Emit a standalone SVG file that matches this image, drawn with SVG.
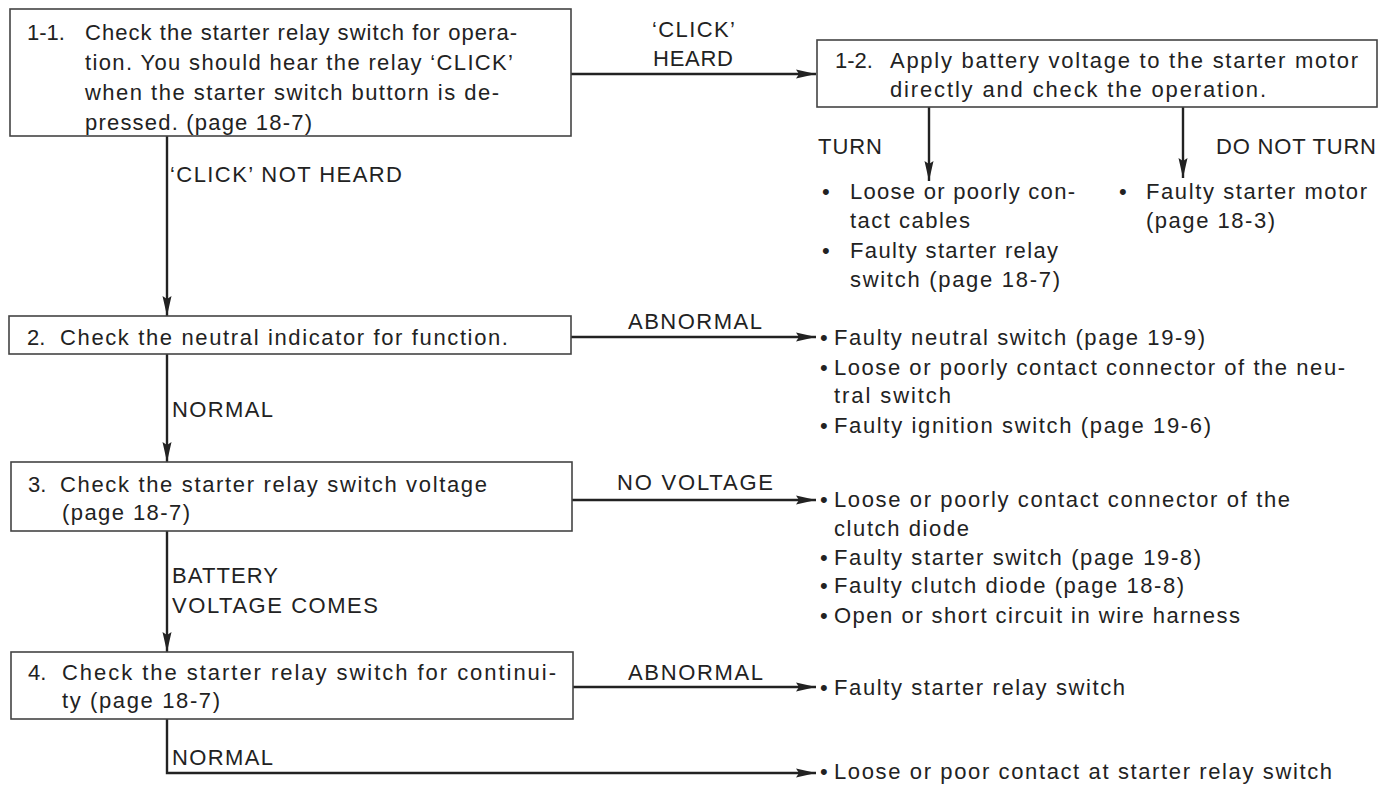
<svg xmlns="http://www.w3.org/2000/svg" width="1393" height="785" viewBox="0 0 1393 785">
<style>
text{font-family:"Liberation Sans",Arial,sans-serif;font-size:22px;fill:#222}
.box{fill:#fff;stroke:#444;stroke-width:1.6}
.ln{fill:none;stroke:#222;stroke-width:2.4}
</style>
<defs>
<marker id="ah" viewBox="0 0 20 10" refX="20" refY="5" markerWidth="20" markerHeight="10" markerUnits="userSpaceOnUse" orient="auto">
<path d="M0,0.5 L20,5 L0,9.5 L3,5 Z" fill="#222"/>
</marker>
</defs>
<rect width="1393" height="785" fill="#fff"/>
<g id="connectors">
<line class="ln" x1="571" y1="74" x2="816" y2="74" marker-end="url(#ah)"/>
<line class="ln" x1="929" y1="107" x2="929" y2="181" marker-end="url(#ah)"/>
<line class="ln" x1="1183" y1="107" x2="1183" y2="178" marker-end="url(#ah)"/>
<line class="ln" x1="167" y1="136" x2="167" y2="316" marker-end="url(#ah)"/>
<line class="ln" x1="571" y1="337" x2="816" y2="337" marker-end="url(#ah)"/>
<line class="ln" x1="167" y1="354" x2="167" y2="462" marker-end="url(#ah)"/>
<line class="ln" x1="572" y1="500" x2="816" y2="500" marker-end="url(#ah)"/>
<line class="ln" x1="167" y1="531" x2="167" y2="652" marker-end="url(#ah)"/>
<line class="ln" x1="573" y1="687" x2="816" y2="687" marker-end="url(#ah)"/>
<polyline class="ln" points="167,719 167,773 816,773" marker-end="url(#ah)"/>
<text x="652" y="37" textLength="83">‘CLICK’</text>
<text x="653" y="66" textLength="80">HEARD</text>
<text x="818" y="154" textLength="64">TURN</text>
<text x="1216" y="154" textLength="160">DO NOT TURN</text>
<text x="170" y="182" textLength="232">‘CLICK’ NOT HEARD</text>
<text x="628" y="329" textLength="134">ABNORMAL</text>
<text x="172" y="417" textLength="101">NORMAL</text>
<text x="617" y="490" textLength="156">NO VOLTAGE</text>
<text x="172" y="583" textLength="106">BATTERY</text>
<text x="172" y="613" textLength="206">VOLTAGE COMES</text>
<text x="628" y="680" textLength="135">ABNORMAL</text>
<text x="172" y="765" textLength="101">NORMAL</text>
</g>
<g id="n11">
<rect class="box" x="10" y="9" width="561" height="127"/>
<text x="27" y="40">1-1.</text>
<text x="85" y="40" textLength="432">Check the starter relay switch for opera-</text>
<text x="85" y="70" textLength="428">tion. You should hear the relay ‘CLICK’</text>
<text x="85" y="100" textLength="414">when the starter switch buttorn is de-</text>
<text x="85" y="130" textLength="227">pressed. (page 18-7)</text>
</g>
<g id="n12">
<rect class="box" x="817" y="40" width="560" height="67"/>
<text x="835" y="68">1-2.</text>
<text x="890" y="68" textLength="468">Apply battery voltage to the starter motor</text>
<text x="890" y="97" textLength="376">directly and check the operation.</text>
</g>
<g id="r12a">
<text x="822" y="199">•</text>
<text x="850" y="199" textLength="225">Loose or poorly con-</text>
<text x="850" y="228" textLength="120">tact cables</text>
<text x="822" y="258">•</text>
<text x="850" y="258" textLength="208">Faulty starter relay</text>
<text x="850" y="287" textLength="210">switch (page 18-7)</text>
</g>
<g id="r12b">
<text x="1119" y="199">•</text>
<text x="1146" y="199" textLength="221">Faulty starter motor</text>
<text x="1146" y="228" textLength="129">(page 18-3)</text>
</g>
<g id="n2">
<rect class="box" x="9" y="316" width="562" height="38"/>
<text x="27" y="345">2.</text>
<text x="60" y="345" textLength="448">Check the neutral indicator for function.</text>
</g>
<g id="r2">
<text x="820" y="345">•</text>
<text x="834" y="345" textLength="371">Faulty neutral switch (page 19-9)</text>
<text x="820" y="375">•</text>
<text x="834" y="375" textLength="511">Loose or poorly contact connector of the neu-</text>
<text x="834" y="403" textLength="117">tral switch</text>
<text x="820" y="433">•</text>
<text x="834" y="433" textLength="377">Faulty ignition switch (page 19-6)</text>
</g>
<g id="n3">
<rect class="box" x="11" y="462" width="561" height="69"/>
<text x="28" y="492">3.</text>
<text x="60" y="492" textLength="427">Check the starter relay switch voltage</text>
<text x="62" y="520" textLength="128">(page 18-7)</text>
</g>
<g id="r3">
<text x="820" y="507">•</text>
<text x="834" y="507" textLength="456">Loose or poorly contact connector of the</text>
<text x="834" y="536" textLength="135">clutch diode</text>
<text x="820" y="565">•</text>
<text x="834" y="565" textLength="367">Faulty starter switch (page 19-8)</text>
<text x="820" y="593">•</text>
<text x="834" y="593" textLength="350">Faulty clutch diode (page 18-8)</text>
<text x="820" y="623">•</text>
<text x="834" y="623" textLength="406">Open or short circuit in wire harness</text>
</g>
<g id="n4">
<rect class="box" x="11" y="652" width="562" height="67"/>
<text x="28" y="680">4.</text>
<text x="62" y="680" textLength="494">Check the starter relay switch for continui-</text>
<text x="62" y="708" textLength="158">ty (page 18-7)</text>
</g>
<g id="r4">
<text x="820" y="695">•</text>
<text x="834" y="695" textLength="291">Faulty starter relay switch</text>
</g>
<g id="r5">
<text x="820" y="779">•</text>
<text x="834" y="779" textLength="498">Loose or poor contact at starter relay switch</text>
</g>
</svg>
